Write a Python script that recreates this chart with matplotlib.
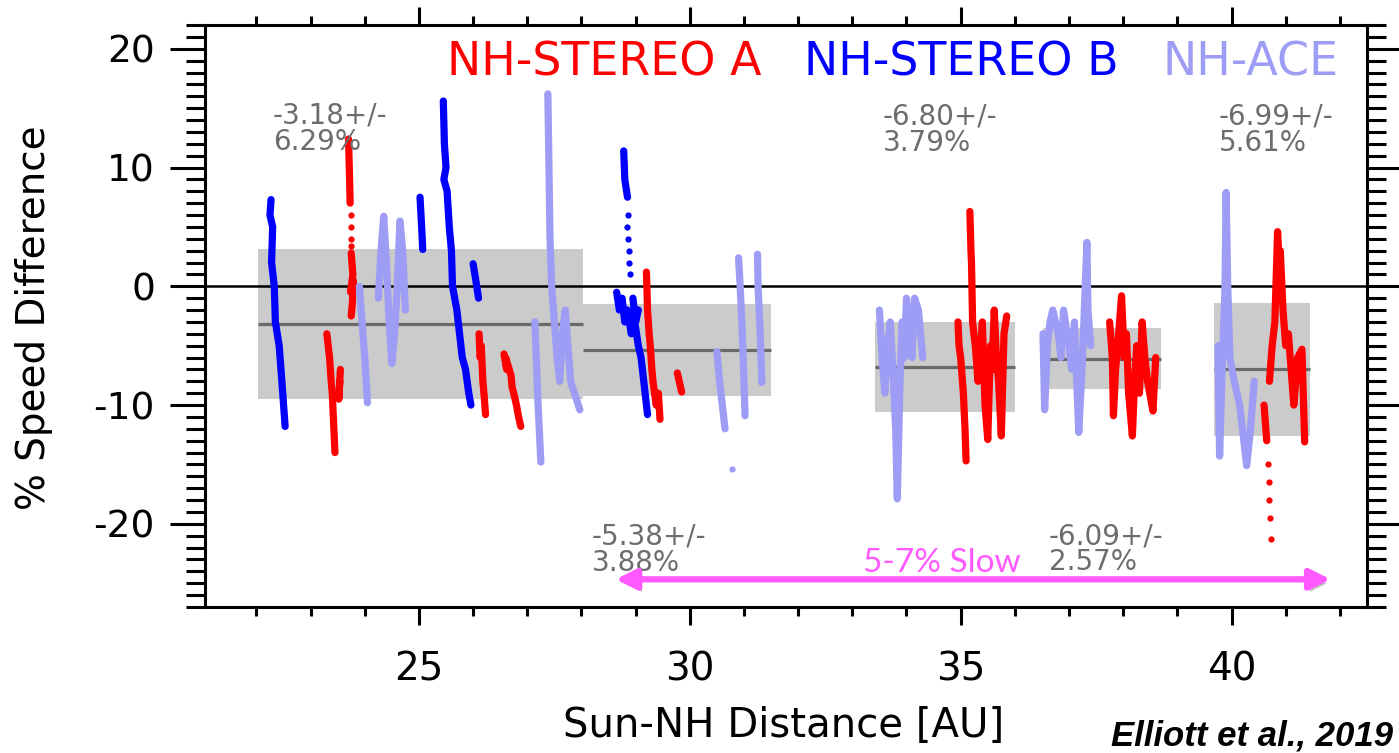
import matplotlib
matplotlib.use("Agg")
import matplotlib.pyplot as plt
import matplotlib.patheffects as pe
from matplotlib.ticker import MultipleLocator

# ======================================================
# DATA
# ======================================================
# mean +/- std boxes
box_x0 = [22.03, 28.02, 33.42, 36.52, 39.67]
box_x1 = [28.02, 31.50, 36.00, 38.69, 41.45]
box_mean = [-3.18, -5.38, -6.80, -6.09, -6.99]
box_std = [6.29, 3.88, 3.79, 2.57, 5.61]
box_text = ["-3.18+/-\n6.29%", "-5.38+/-\n3.88%", "-6.80+/-\n3.79%",
            "-6.09+/-\n2.57%", "-6.99+/-\n5.61%"]

# NH-STEREO A (red) streaks
sta_x = [
    [23.70, 23.72, 23.73],
    [23.75, 23.78, 23.74, 23.79, 23.77, 23.75],
    [23.30, 23.35, 23.38, 23.40, 23.43, 23.45],
    [23.55, 23.52, 23.54],
    [26.11, 26.13, 26.15, 26.18, 26.20, 26.23],
    [26.57, 26.62, 26.60, 26.70, 26.72, 26.75, 26.80, 26.84, 26.88],
    [29.20, 29.22, 29.25, 29.27, 29.30, 29.32, 29.38, 29.42, 29.45],
    [29.77, 29.85],
    [34.95, 34.97, 35.00, 35.05, 35.08, 35.10],
    [35.17, 35.19, 35.20, 35.22, 35.27, 35.32, 35.36, 35.40, 35.45, 35.50,
     35.55, 35.58, 35.62, 35.66, 35.70, 35.75, 35.80, 35.85],
    [37.75, 37.80, 37.82, 37.86, 37.90, 37.97, 38.02, 38.06, 38.10, 38.17,
     38.21, 38.25, 38.30, 38.35, 38.40, 38.45, 38.55, 38.60],
    [40.60, 40.65],
    [40.70, 40.75, 40.80, 40.85, 40.88, 40.90, 40.95, 41.00, 41.05, 41.10,
     41.15, 41.22, 41.30, 41.35],
]
sta_y = [
    [12.4, 9.0, 7.0],
    [2.8, 1.0, -0.5, 0.5, -1.5, -2.5],
    [-4.0, -6.0, -8.0, -9.0, -12.0, -14.0],
    [-7.0, -9.5, -8.0],
    [-4.0, -6.0, -5.0, -8.0, -9.0, -10.8],
    [-5.7, -7.0, -6.0, -7.5, -8.5, -9.0, -10.0, -11.0, -11.8],
    [1.2, -2.0, -4.0, -5.0, -7.0, -8.0, -10.0, -9.0, -11.2],
    [-7.3, -8.9],
    [-3.0, -5.0, -6.0, -9.0, -12.0, -14.7],
    [6.3, 3.0, 2.0, -3.0, -5.0, -8.0, -6.0, -3.0, -10.0, -12.9,
     -5.0, -7.0, -2.0, -6.0, -8.0, -12.6, -4.0, -2.5],
    [-3.0, -6.0, -10.9, -7.0, -5.0, -0.8, -6.0, -4.0, -9.0, -12.6,
     -8.0, -5.0, -9.0, -3.0, -6.0, -8.0, -10.5, -6.0],
    [-10.0, -13.0],
    [-8.0, -5.0, -3.0, 4.6, 2.0, 3.0, -2.0, -5.0, -4.0, -7.0,
     -10.0, -6.0, -5.3, -13.1],
]
sta_dot_x = [23.74, 23.74, 23.75, 23.75, 40.68, 40.69, 40.70, 40.71, 40.72]
sta_dot_y = [6.0, 5.0, 4.0, 3.4, -15.0, -16.5, -18.0, -19.5, -21.3]

# NH-STEREO B (blue) streaks
stb_x = [
    [22.27, 22.25, 22.30, 22.28, 22.33, 22.35, 22.42, 22.47, 22.53],
    [25.02, 25.05, 25.07],
    [25.45, 25.47, 25.50, 25.46, 25.52, 25.56, 25.60, 25.62, 25.66, 25.70,
     25.75, 25.80, 25.86, 25.92, 25.96],
    [26.00, 26.05, 26.10],
    [28.78, 28.80, 28.85],
    [28.65, 28.70, 28.75, 28.80, 28.85, 28.92, 28.96, 29.00, 29.05, 29.10,
     29.15, 29.22],
    [28.95, 29.00, 29.05],
]
stb_y = [
    [7.3, 6.0, 5.0, 2.0, 0.0, -3.0, -5.0, -8.0, -11.8],
    [7.5, 5.0, 3.1],
    [15.6, 12.0, 10.0, 9.0, 8.0, 5.0, 3.0, 0.0, -1.0, -2.0,
     -4.0, -6.0, -7.0, -9.0, -10.0],
    [1.9, 0.5, -1.0],
    [11.4, 9.0, 7.5],
    [-0.5, -2.0, -1.0, -3.0, -2.0, -4.0, -2.5, -3.5, -5.0, -6.0,
     -8.0, -10.8],
    [-1.0, -3.0, -2.0],
]
stb_dot_x = [28.85, 28.84, 28.85, 28.87, 28.87, 28.90]
stb_dot_y = [6.0, 5.0, 4.0, 3.0, 2.0, 1.0]

# NH-ACE (light purple) streaks
ace_x = [
    [23.90, 23.95, 24.00, 24.05],
    [24.25, 24.30, 24.35, 24.40, 24.45, 24.50, 24.55, 24.60, 24.65, 24.70,
     24.75],
    [27.14, 27.20, 27.25],
    [27.38, 27.40, 27.42, 27.45, 27.50, 27.55, 27.60, 27.65, 27.70, 27.80,
     27.97],
    [30.50, 30.55, 30.60, 30.65],
    [30.90, 30.93, 30.97, 31.00, 31.02],
    [31.25, 31.26, 31.30, 31.33],
    [33.50, 33.55, 33.60, 33.65, 33.70, 33.75, 33.80, 33.83, 33.88, 33.92,
     33.96, 34.00, 34.05, 34.10, 34.15, 34.22, 34.30],
    [36.52, 36.55, 36.60, 36.65, 36.70, 36.80, 36.85, 36.90, 37.00, 37.05,
     37.10, 37.18, 37.25, 37.33, 37.35, 37.40],
    [39.75, 39.78, 39.82, 39.88, 39.90, 39.93, 39.97, 40.05, 40.15, 40.28,
     40.35, 40.42],
]
ace_y = [
    [0.0, -3.0, -6.0, -9.8],
    [-1.0, 3.0, 5.9, 2.0, -3.0, -6.5, -4.0, 0.0, 5.5, 3.0,
     -2.0],
    [-3.0, -10.0, -14.8],
    [16.2, 10.0, 4.0, 0.0, -3.0, -6.0, -8.0, -4.0, -2.0, -8.0,
     -10.4],
    [-5.5, -8.0, -10.0, -12.0],
    [2.4, 0.0, -4.0, -8.0, -10.9],
    [2.7, 0.0, -4.0, -8.1],
    [-2.0, -6.0, -9.0, -5.0, -3.0, -7.0, -12.0, -17.9, -8.0, -3.0,
     -6.0, -1.0, -4.0, -6.0, -1.0, -2.0, -6.0],
    [-4.0, -10.4, -5.0, -3.0, -2.0, -4.0, -6.0, -2.0, -5.0, -7.0,
     -3.0, -12.3, -6.0, 3.7, -2.0, -5.0],
    [-5.0, -14.3, -8.0, 0.0, 7.9, 0.0, -6.0, -8.0, -10.0, -15.1,
     -12.0, -8.0],
]
ace_dot_x = [30.78]
ace_dot_y = [-15.4]

series_names = ["NH-STEREO A", "NH-STEREO B", "NH-ACE"]
series_colors = ["#ff0000", "#0000ff", "#9d9df5"]

slow_x0, slow_x1, slow_y = 28.63, 41.83, -24.67

# ======================================================
# PLOT
# ======================================================
fig = plt.figure(figsize=(13.99, 7.53), dpi=100)
ax = fig.add_axes([0.1465, 0.1939, 0.8306, 0.7729])
ax.set_xlim(21.05, 42.5)
ax.set_ylim(-27, 22)

# boxes
for x0, x1, m, s in zip(box_x0, box_x1, box_mean, box_std):
    ax.fill_between([x0, x1], m - s, m + s, color="#cbcbcb", lw=0, zorder=1)
    ax.hlines(m, x0, x1, color="#6a6a6a", lw=2.3, zorder=1.5)

ax.axhline(0, color="black", lw=1.8, zorder=2)

groups = [(sta_x, sta_y, sta_dot_x, sta_dot_y),
          (stb_x, stb_y, stb_dot_x, stb_dot_y),
          (ace_x, ace_y, ace_dot_x, ace_dot_y)]
for (xs, ys, dx, dy), col in zip(groups, series_colors):
    for x, y in zip(xs, ys):
        ax.plot(x, y, color=col, lw=5.2, solid_capstyle="round",
                solid_joinstyle="round", zorder=3)
    ax.plot(dx, dy, "o", color=col, ms=4.5, mec="none", zorder=3)

# legend as coloured text
for name, col, xa in zip(series_names, series_colors, [0.2083, 0.5155, 0.8244]):
    ax.text(xa, 0.914, name, color=col, fontsize=33, transform=ax.transAxes,
            ha="left", va="baseline")

# stats text
text_pos = [(0.0585, 0.868), (0.333, 0.145), (0.5835, 0.866),
            (0.7263, 0.146), (0.8726, 0.866)]
for t, (xa, ya) in zip(box_text, text_pos):
    ax.text(xa, ya, t, color="#6d6d6d", fontsize=20, transform=ax.transAxes,
            ha="left", va="top", linespacing=0.92)

# arrow
ann = ax.annotate("", xy=(slow_x1, slow_y), xytext=(slow_x0, slow_y),
                  arrowprops=dict(arrowstyle="<|-|>", color="#ff59ff", lw=4.5,
                                  mutation_scale=30, shrinkA=0, shrinkB=0),
                  zorder=4)
ann.arrow_patch.set_path_effects([
    pe.SimplePatchShadow(offset=(2, -3), shadow_rgbFace="gray", alpha=0.5),
    pe.Normal()])
ax.text(33.2, -24.08, "5-7% Slow", color="#ff59ff", fontsize=24,
        family=["Lato", "DejaVu Sans"], ha="left", va="baseline", zorder=5)

# axes styling
for sp in ax.spines.values():
    sp.set_linewidth(2.2)
ax.xaxis.set_major_locator(MultipleLocator(5))
ax.xaxis.set_minor_locator(MultipleLocator(1))
ax.yaxis.set_major_locator(MultipleLocator(10))
ax.yaxis.set_minor_locator(MultipleLocator(1))
ax.tick_params(axis="both", which="both", direction="out", width=2.2,
               top=True, right=True)
ax.tick_params(axis="x", which="major", length=13, pad=18, labelsize=28)
ax.tick_params(axis="x", which="minor", length=6.5)
ax.tick_params(axis="y", which="major", length=25, pad=11, labelsize=27)
ax.tick_params(axis="y", which="minor", length=14)
ax.set_yticks([-20, -10, 0, 10, 20])
ax.set_yticklabels(["-20", "-10", "0", "10", "20"])

ax.set_xlabel("Sun-NH Distance [AU]", fontsize=29)
ax.xaxis.label.set_va("baseline")
ax.xaxis.set_label_coords(0.498, -0.2234)
ax.set_ylabel("% Speed Difference", fontsize=28)
ax.yaxis.set_label_coords(-0.131, 0.497)

fig.text(0.9957, 0.0106, "Elliott et al., 2019", fontsize=25,
         family=["Liberation Sans"], weight="bold", style="italic",
         ha="right", va="baseline")

fig.savefig("out.png", dpi=100)
